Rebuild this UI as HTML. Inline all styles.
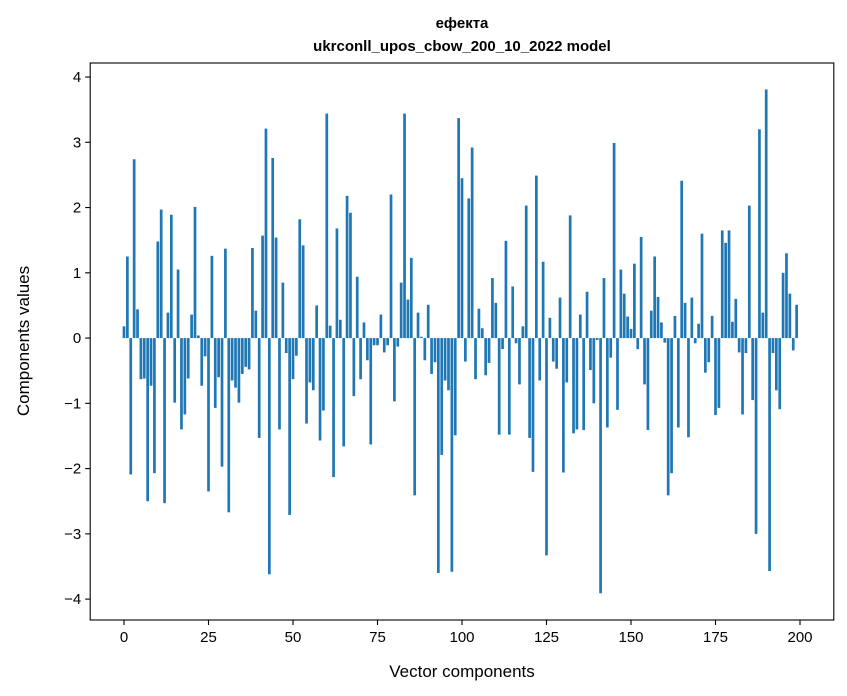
<!DOCTYPE html>
<html><head><meta charset="utf-8"><style>
html,body{margin:0;padding:0;background:#fff;}
svg{display:block;font-family:"Liberation Sans","DejaVu Sans",sans-serif;}
</style></head><body>
<svg id="chart" width="847" height="696" viewBox="0 0 847 696">
<rect width="847" height="696" fill="#fff"/>
<text x="462" y="28" text-anchor="middle" font-size="15" font-weight="bold">ефекта</text>
<text x="462" y="51" text-anchor="middle" font-size="15" font-weight="bold">ukrconll_upos_cbow_200_10_2022 model</text>
<g id="bars"></g>
<g id="axes"></g>
<text x="462" y="677" text-anchor="middle" font-size="17">Vector components</text>
<text transform="translate(29,341) rotate(-90)" text-anchor="middle" font-size="17">Components values</text>
</svg>
<script>
const values = [0.18,1.25,-2.09,2.74,0.44,-0.63,-0.62,-2.5,-0.73,-2.07,1.48,1.97,-2.53,0.39,1.89,-0.99,1.05,-1.4,-1.17,-0.62,0.36,2.01,0.04,-0.73,-0.28,
-2.35,1.26,-1.07,-0.6,-1.97,1.37,-2.67,-0.65,-0.76,-0.99,-0.55,-0.44,-0.48,1.38,0.42,-1.53,1.57,3.21,-3.62,2.76,1.54,-1.4,0.85,-0.23,-2.71,
-0.63,-0.27,1.82,1.42,-1.31,-0.68,-0.8,0.5,-1.57,-1.11,3.44,0.19,-2.13,1.68,0.28,-1.66,2.18,1.92,-0.89,0.94,-0.63,0.24,-0.34,-1.63,-0.11,
-0.11,0.36,-0.22,-0.11,2.2,-0.97,-0.13,0.85,3.44,0.59,1.23,-2.41,0.39,0.02,-0.34,0.51,-0.55,-0.37,-3.6,-1.79,-0.65,-0.8,-3.58,-1.49,3.37,
2.45,-0.36,2.14,2.92,-0.63,0.45,0.15,-0.57,-0.38,0.92,0.54,-1.48,-0.17,1.49,-1.48,0.79,-0.08,-0.71,0.18,2.03,-1.53,-2.05,2.49,-0.65,1.17,
-3.33,0.31,-0.36,-0.47,0.62,-2.06,-0.68,1.88,-1.46,-1.4,0.36,-1.41,0.71,-0.49,-1.0,-0.03,-3.91,0.92,-1.37,-0.3,2.99,-1.1,1.05,0.68,0.33,
0.14,1.14,-0.17,1.55,-0.71,-1.41,0.42,1.25,0.63,0.24,-0.07,-2.41,-2.07,0.34,-1.37,2.41,0.54,-1.52,0.62,-0.08,0.22,1.6,-0.53,-0.37,0.34,
-1.18,-1.07,1.65,1.46,1.65,0.25,0.6,-0.22,-1.17,-0.23,2.03,-0.95,-3.0,3.2,0.39,3.81,-3.57,-0.23,-0.8,-1.09,1.0,1.3,0.68,-0.19,0.51];
const xTicks = [0,25,50,75,100,125,150,175,200];
const yTicks = [-4,-3,-2,-1,0,1,2,3,4];

const L=90.2, R=833.8, T=63, B=620;
const xMin=-10, xMax=210, yMin=-4.32, yMax=4.215;
function xs(v){return L+(v-xMin)/(xMax-xMin)*(R-L);}
function ys(v){return T+(yMax-v)/(yMax-yMin)*(B-T);}
const NS="http://www.w3.org/2000/svg";
const bars=document.getElementById('bars');
values.forEach((v,i)=>{
  const r=document.createElementNS(NS,'rect');
  const x0=xs(i-0.4), x1=xs(i+0.4);
  const y0=ys(Math.max(v,0)), y1=ys(Math.min(v,0));
  r.setAttribute('x',x0);r.setAttribute('width',x1-x0);
  r.setAttribute('y',y0);r.setAttribute('height',Math.max(y1-y0,0.3));
  r.setAttribute('fill','#1f77b4');
  
  
  bars.appendChild(r);
});
const axes=document.getElementById('axes');
const frame=document.createElementNS(NS,'rect');
frame.setAttribute('x',L);frame.setAttribute('y',T);frame.setAttribute('width',R-L);frame.setAttribute('height',B-T);
frame.setAttribute('fill','none');frame.setAttribute('stroke','#000');frame.setAttribute('stroke-width','1.1');


axes.appendChild(frame);
xTicks.forEach(t=>{
  const x=xs(t);
  const l=document.createElementNS(NS,'line');
  l.setAttribute('x1',x);l.setAttribute('x2',x);l.setAttribute('y1',B);l.setAttribute('y2',B+5);
  l.setAttribute('stroke','#000');l.setAttribute('stroke-width','1.1');
  
  
  axes.appendChild(l);
  const tx=document.createElementNS(NS,'text');
  tx.setAttribute('x',x);tx.setAttribute('y',B+22);tx.setAttribute('text-anchor','middle');tx.setAttribute('font-size','15');
  tx.textContent=t;
  
  
  axes.appendChild(tx);
});
yTicks.forEach(t=>{
  const y=ys(t);
  const l=document.createElementNS(NS,'line');
  l.setAttribute('x1',L-5);l.setAttribute('x2',L);l.setAttribute('y1',y);l.setAttribute('y2',y);
  l.setAttribute('stroke','#000');l.setAttribute('stroke-width','1.1');
  
  
  axes.appendChild(l);
  const tx=document.createElementNS(NS,'text');
  tx.setAttribute('x',L-9);tx.setAttribute('y',y+5);tx.setAttribute('text-anchor','end');tx.setAttribute('font-size','15');
  tx.textContent=t<0?'\u2212'+Math.abs(t):String(t);
  
  
  axes.appendChild(tx);
});
</script>
</body></html>
